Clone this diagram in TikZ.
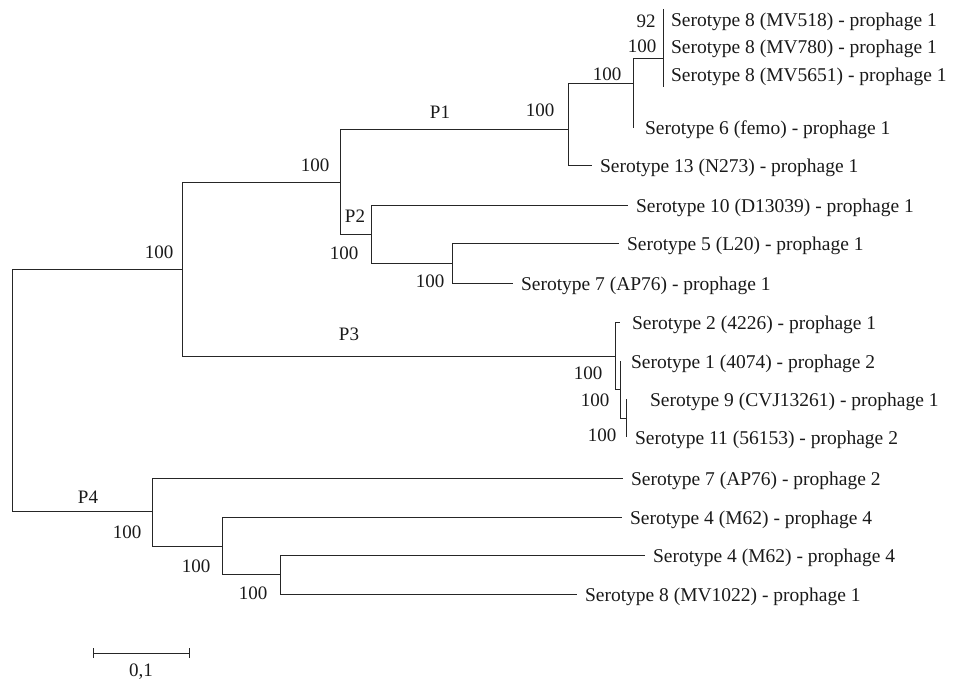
\documentclass[tikz,border=0pt]{standalone}
\usepackage{fontspec}
\setmainfont{Liberation Serif}
\usetikzlibrary{arrows.meta}
\definecolor{cline}{HTML}{262626}
\definecolor{ctext}{HTML}{1A1A1A}
\tikzset{
  every picture/.style={line width=0.9pt},
  branch/.style={draw=cline, line width=0.9pt},
  leaf/.style={anchor=west, inner sep=0pt, outer xsep=8pt, text height=18pt, text depth=4pt, text=ctext, font=\fontsize{19.5}{22}\selectfont},
  boot/.style={inner sep=0pt, text=ctext, font=\fontsize{19}{22}\selectfont},
  clade/.style={boot},
}

\begin{document}
\begin{tikzpicture}[x=1pt, y=-1pt]
  \useasboundingbox (0,0) rectangle (971,682);

  % inner nodes of the tree
  \coordinate (root) at (12,388);
  \coordinate (nA)   at (182,269);
  \coordinate (nB)   at (340,182);
  \coordinate (nP1)  at (568,129);
  \coordinate (nC)   at (633,83);
  \coordinate (nD)   at (663,58);
  \coordinate (dTop) at (663,9);
  \coordinate (dBot) at (663,87);
  \coordinate (nP2)  at (371,234);
  \coordinate (nE)   at (452,263);
  \coordinate (nP3)  at (615,356);
  \coordinate (nF)   at (620,389);
  \coordinate (nG)   at (626,418);
  \coordinate (nP4)  at (152,511);
  \coordinate (nH)   at (222,546);
  \coordinate (nI)   at (280,574);

  % leaves, P1
  \node[leaf] (s518)  at (663,20)  {Serotype 8 (MV518) - prophage 1};
  \node[leaf] (s780)  at (663,47)  {Serotype 8 (MV780) - prophage 1};
  \node[leaf] (s5651) at (663,75)  {Serotype 8 (MV5651) - prophage 1};
  \node[leaf] (s6)    at (637,128) {Serotype 6 (femo) - prophage 1};
  \node[leaf] (s13)   at (592,165) {Serotype 13 (N273) - prophage 1};
  % leaves, P2
  \node[leaf] (s10)   at (628,205) {Serotype 10 (D13039) - prophage 1};
  \node[leaf] (s5)    at (619,243) {Serotype 5 (L20) - prophage 1};
  \node[leaf] (s7a)   at (513,283) {Serotype 7 (AP76) - prophage 1};
  % leaves, P3
  \node[leaf, outer xsep=12pt] (s2) at (620,322) {Serotype 2 (4226) - prophage 1};
  \node[leaf] (s1)    at (623,361) {Serotype 1 (4074) - prophage 2};
  \node[leaf] (s9)    at (642,399) {Serotype 9 (CVJ13261) - prophage 1};
  \node[leaf] (s11)   at (627,437) {Serotype 11 (56153) - prophage 2};
  % leaves, P4
  \node[leaf] (s7b)   at (623,478) {Serotype 7 (AP76) - prophage 2};
  \node[leaf] (s4a)   at (622,517) {Serotype 4 (M62) - prophage 4};
  \node[leaf] (s4b)   at (645,555) {Serotype 4 (M62) - prophage 4};
  \node[leaf] (s8c)   at (577,594) {Serotype 8 (MV1022) - prophage 1};

  % branches
  \foreach \a/\b in {root/nA, root/nP4, nA/nB, nA/nP3, nB/nP1, nB/nP2,
                     nP1/nC, nP1/s13, nC/nD, nP2/s10, nP2/nE, nE/s5, nE/s7a,
                     nP3/s2, nP3/nF, nF/nG, nP4/s7b, nP4/nH, nH/s4a, nH/nI,
                     nI/s4b, nI/s8c}
    \draw[branch] (\a) |- (\b);
  % zero length tips
  \draw[branch] (dTop) -- (dBot);
  \draw[branch] (nC) -- (nC |- s6);
  \draw[branch] (nF) -- (nF |- s1);
  \draw[branch] (nG |- s9) -- (nG |- s11);

  % support values
  \node[boot] (bA)  at (159,252) {100};
  \node[boot] (bB)  at (315,165) {100};
  \node[boot] (bP1) at (540,110) {100};
  \node[boot] (bC)  at (607,74)  {100};
  \node[boot] (bD)  at (642,46)  {100};
  \node[boot] (bD2) at (646,21)  {92};
  \node[boot] (bP2) at (344,253) {100};
  \node[boot] (bE)  at (430,281) {100};
  \node[boot] (bP3) at (588,373) {100};
  \node[boot] (bF)  at (595,400) {100};
  \node[boot] (bG)  at (602,435) {100};
  \node[boot] (bP4) at (127,532) {100};
  \node[boot] (bH)  at (196,566) {100};
  \node[boot] (bI)  at (253,593) {100};

  % clade names
  \node[clade] (p1) at (440,112) {P1};
  \node[clade] (p2) at (355,216) {P2};
  \node[clade] (p3) at (349,334) {P3};
  \node[clade] (p4) at (88,497)  {P4};

  % scale bar
  \coordinate (sb0) at (93,653);
  \coordinate (sb1) at (190,653);
  \draw[branch, {Bar[width=10pt]}-{Bar[width=10pt]}] (sb0) -- (sb1);
  \node[boot] (sbl) at (141,672) {0,1};
\end{tikzpicture}
\end{document}
